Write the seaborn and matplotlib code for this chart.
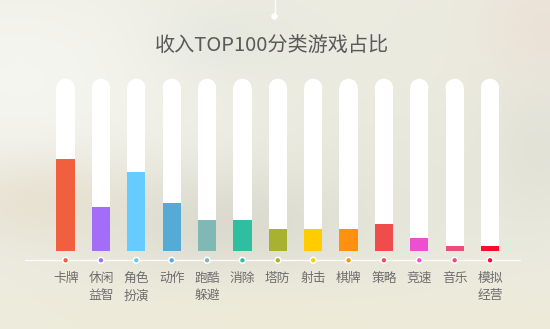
import numpy as np
import pandas as pd
import matplotlib
matplotlib.use("Agg")
import matplotlib.pyplot as plt
import seaborn as sns

# ---- data ----
categories = ["卡牌", "休闲\n益智", "角色\n扮演", "动作", "跑酷\n躲避", "消除", "塔防",
              "射击", "棋牌", "策略", "竞速", "音乐", "模拟\n经营"]
shares = [21, 10, 18, 11, 7, 7, 5, 5, 5, 6, 3, 1, 1]
colors = ["#F0603E", "#A36DF7", "#66CCFF", "#55AAD6", "#7FB8B5", "#2FBFA0", "#A8B230",
          "#FFCC00", "#FF9010", "#F04C4C", "#EE4FD0", "#EE4C7C", "#FF0A2A"]
title = "收入TOP100分类游戏占比"

W, H = 550, 329
sns.set_theme(style="white")
plt.rcParams["font.family"] = ["Noto Sans CJK SC", "DejaVu Sans"]

fig = plt.figure(figsize=(W / 100, H / 100), dpi=100)

# ---- blurred photographic background ----
bg_ax = fig.add_axes([0, 0, 1, 1])
yy, xx = np.mgrid[0:H, 0:W].astype(float)
img = np.ones((H, W, 3)) * np.array([236, 235, 224]) / 255.0
blobs = [
    (20, 80, 130, 90, (246, 247, 242), 0.85),
    (230, 225, 100, 40, (206, 206, 196), 0.6),
    (40, 200, 70, 30, (228, 219, 198), 0.6),
    (545, 25, 45, 40, (236, 220, 210), 0.6),
    (300, 325, 320, 40, (239, 235, 214), 0.7),
    (230, 40, 50, 30, (224, 228, 218), 0.5),
    (540, 150, 40, 50, (218, 218, 208), 0.5),
    (420, 180, 90, 60, (226, 226, 214), 0.4),
]
for cx, cy, sx, sy, col, w in blobs:
    a = w * np.exp(-(((xx - cx) / sx) ** 2 + ((yy - cy) / sy) ** 2) / 2)
    img = img * (1 - a[..., None]) + (np.array(col) / 255.0) * a[..., None]
bg_ax.imshow(img, extent=[0, W, H, 0], aspect="auto")
bg_ax.set_xlim(0, W)
bg_ax.set_ylim(H, 0)
bg_ax.axis("off")

# top ornament
bg_ax.plot([274.5, 274.5], [0, 14], color="white", lw=1.0, alpha=0.85)
bg_ax.scatter([274.5], [16.5], s=22, color="white", zorder=3, edgecolor="none")
# baseline
bg_ax.plot([25, 520], [260.3, 260.3], color="white", lw=1.0, alpha=0.9)

# title
fig.text(271.8 / W, 1 - 45.7 / H, title, ha="center", va="center",
         fontsize=14.5, color="#5a5a5a")

# ---- bar axes ----
step = 35.37
x0 = 65.6
left = x0 - 0.5 * step
ax_w = 13 * step
base_y = H - 250.7
ppu = 4.374
ymax = 40
ax = fig.add_axes([left / W, base_y / H, ax_w / W, ymax * ppu / H])
ax.patch.set_alpha(0)

bar_w_px = 18.2
bw = bar_w_px / step
track_top = 172 / ppu
radius = (bar_w_px / 2) / ppu
track_body = track_top - radius

df = pd.DataFrame({"cat": categories, "share": shares,
                   "track": [track_body] * len(categories)})

sns.barplot(data=df, x="cat", y="track", color="white", saturation=1,
            width=bw, ax=ax, linewidth=0, zorder=2)
d_pt = bar_w_px * 72 / 100
ax.scatter(range(len(categories)), df["track"], s=d_pt ** 2, color="white",
           edgecolor="none", zorder=2, marker="o")
sns.barplot(data=df, x="cat", y="share", hue="cat", palette=colors, saturation=1,
            width=bw, ax=ax, linewidth=0, legend=False, zorder=3)

# dots on baseline
dot_y = -(260.3 - 250.7) / ppu
ax.scatter(range(len(categories)), [dot_y] * len(categories), s=18, c=colors,
           edgecolor="white", linewidth=1.1, zorder=5, clip_on=False)

ax.set_xlim(-0.5, len(categories) - 0.5)
ax.set_ylim(0, ymax)
ax.set_xlabel("")
ax.set_ylabel("")
ax.set_yticks([])
ax.tick_params(axis="x", length=0, pad=15.5, labelsize=9.2, labelcolor="#6e6e6e")
for lab in ax.get_xticklabels():
    lab.set_linespacing(1.42)
    lab.set_verticalalignment("top")
for s in ax.spines.values():
    s.set_visible(False)

fig.savefig("out.png", dpi=100)
